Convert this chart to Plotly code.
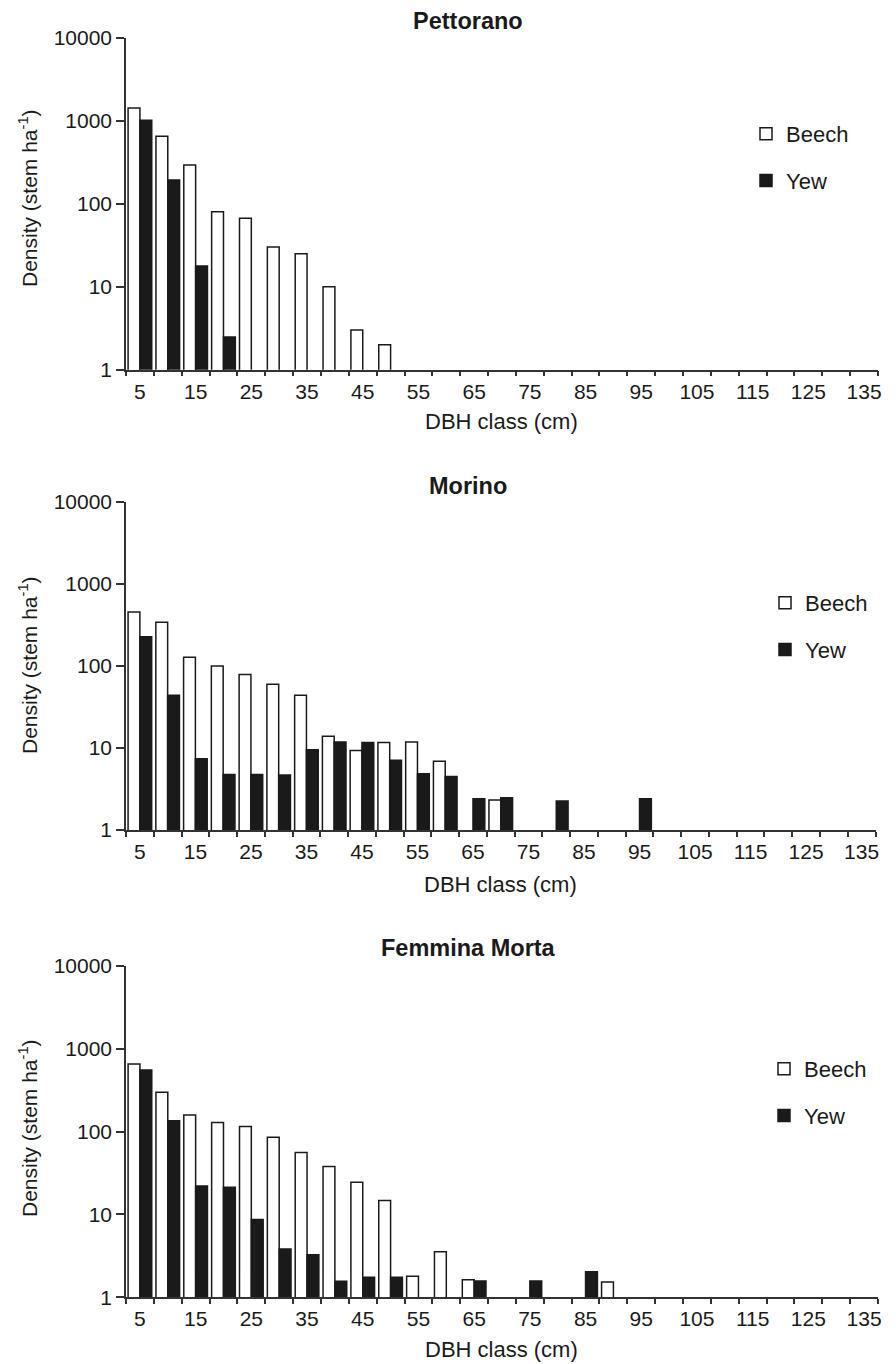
import plotly.graph_objects as go

# ---------------- data ----------------
dbh_classes = [5, 10, 15, 20, 25, 30, 35, 40, 45, 50,
               55, 60, 65, 70, 75, 80, 85, 90, 95, 100,
               105, 110, 115, 120, 125, 130, 135]
x_tick_labels = [5, 15, 25, 35, 45, 55, 65, 75, 85, 95, 105, 115, 125, 135]

site_names = ["Pettorano", "Morino", "Femmina Morta"]

pettorano_beech = [1420, 648, 293, 80, 67, 30, 25, 10, 3.0, 2.0,
                   None, None, None, None, None, None, None, None, None, None,
                   None, None, None, None, None, None, None]
pettorano_yew = [1010, 193, 17.7, 2.47, None, None, None, None, None, None,
                 None, None, None, None, None, None, None, None, None, None,
                 None, None, None, None, None, None, None]

morino_beech = [456, 341, 128, 100, 79, 60, 44, 13.9, 9.3, 11.7,
                11.8, 6.9, None, 2.32, None, None, None, None, None, None,
                None, None, None, None, None, None, None]
morino_yew = [228, 44, 7.4, 4.75, 4.74, 4.7, 9.5, 11.8, 11.7, 7.1,
              4.85, 4.5, 2.41, 2.48, None, 2.26, None, None, 2.41, None,
              None, None, None, None, None, None, None]

femmina_beech = [652, 297, 158, 128, 115, 85, 56, 37.7, 24.4, 14.7,
                 1.79, 3.55, 1.63, None, None, None, None, 1.53, None, None,
                 None, None, None, None, None, None, None]
femmina_yew = [552, 135, 22.0, 21.2, 8.7, 3.83, 3.27, 1.56, 1.74, 1.74,
               None, None, 1.57, None, 1.57, None, 2.04, None, None, None,
               None, None, None, None, None, None, None]

y_tick_vals = [1, 10, 100, 1000, 10000]
y_tick_text = ["1", "10", "100", "1000", "10000"]

series = [(pettorano_beech, pettorano_yew),
          (morino_beech, morino_yew),
          (femmina_beech, femmina_yew)]

# ---------------- layout geometry ----------------
W, H = 896, 1364
FONT = "Liberation Sans, Arial, Helvetica, sans-serif"
INK = "#1a1a1a"
AXIS = "#333333"
CLASS_WIDTH = 5  # width of a DBH class (cm)

def py(px):
    return 1 - px / H

panels = [
    dict(x0=126, x1=878, top=37.7, bottom=369.7, title_y=21, xt_y=422, yt_y=198,
         leg_x=746, leg_top=113),
    dict(x0=126, x1=875.5, top=502, bottom=830, title_y=486, xt_y=884, yt_y=665,
         leg_x=765, leg_top=582),
    dict(x0=126, x1=878, top=965.7, bottom=1297.3, title_y=948, xt_y=1349, yt_y=1128,
         leg_x=764, leg_top=1048),
]

fig = go.Figure()
layout = dict(
    width=W, height=H, autosize=False,
    margin=dict(l=0, r=0, t=0, b=0, pad=0),
    paper_bgcolor="white", plot_bgcolor="white",
    font=dict(family=FONT, size=21, color=INK),
    barmode="group", bargap=0.15, bargroupgap=0.0,
    annotations=[],
)

for i, (p, (beech, yew)) in enumerate(zip(panels, series)):
    n = "" if i == 0 else str(i + 1)
    xa, ya = "x" + n, "y" + n
    leg = "legend" + n
    fig.add_trace(go.Bar(
        x=dbh_classes, y=beech, name="Beech", xaxis=xa, yaxis=ya,
        marker=dict(color="white", line=dict(color=INK, width=1.5)),
        legend=leg, legendgroup="b" + n))
    fig.add_trace(go.Bar(
        x=dbh_classes, y=yew, name="Yew", xaxis=xa, yaxis=ya,
        marker=dict(color=INK, line=dict(color=INK, width=1.5)),
        legend=leg, legendgroup="y" + n))

    layout["xaxis" + n] = dict(
        domain=[p["x0"] / W, p["x1"] / W], anchor=ya,
        type="linear",
        range=[dbh_classes[0] - CLASS_WIDTH / 2, dbh_classes[-1] + CLASS_WIDTH / 2],
        tickmode="array", tickvals=x_tick_labels,
        ticktext=[str(v) for v in x_tick_labels],
        ticks="", tickangle=0, automargin=False, ticklabelstandoff=2,
        minor=dict(ticks="outside", tick0=dbh_classes[0] - CLASS_WIDTH / 2,
                   dtick=CLASS_WIDTH, ticklen=5, tickwidth=1.5, tickcolor=AXIS,
                   showgrid=False),
        showline=True, linecolor=AXIS, linewidth=1.5,
        showgrid=False, zeroline=False, tickfont=dict(size=21, color=INK),
        fixedrange=True)
    layout["yaxis" + n] = dict(
        domain=[py(p["bottom"]), py(p["top"])], anchor=xa,
        type="log", range=[0, 4], automargin=False,
        tickmode="array", tickvals=y_tick_vals, ticktext=y_tick_text,
        ticks="outside", ticklen=8, tickwidth=1.5, tickcolor=AXIS,
        showline=True, linecolor=AXIS, linewidth=1.5,
        showgrid=False, zeroline=False, tickfont=dict(size=21, color=INK),
        fixedrange=True)
    layout[leg] = dict(
        x=p["leg_x"] / W, xanchor="left", y=py(p["leg_top"]), yanchor="top",
        bgcolor="rgba(0,0,0,0)", borderwidth=0,
        font=dict(family=FONT, size=22, color=INK),
        traceorder="grouped", tracegroupgap=15)

    layout["annotations"] += [
        dict(text="<b>" + site_names[i] + "</b>", x=468 / W, y=py(p["title_y"]),
             xref="paper", yref="paper", xanchor="center", yanchor="middle",
             showarrow=False, font=dict(family=FONT, size=23.5, color=INK)),
        dict(text="DBH class (cm)", x=((p["x0"] + p["x1"]) / 2) / W, y=py(p["xt_y"]),
             xref="paper", yref="paper", xanchor="center", yanchor="middle",
             showarrow=False, font=dict(family=FONT, size=22, color=INK)),
        dict(text="Density (stem ha<sup>-1</sup>)", x=28 / W, y=py(p["yt_y"]),
             xref="paper", yref="paper", xanchor="center", yanchor="middle",
             textangle=-90, showarrow=False,
             font=dict(family=FONT, size=21, color=INK)),
    ]

fig.update_layout(**layout)
fig.write_html("out.html")
